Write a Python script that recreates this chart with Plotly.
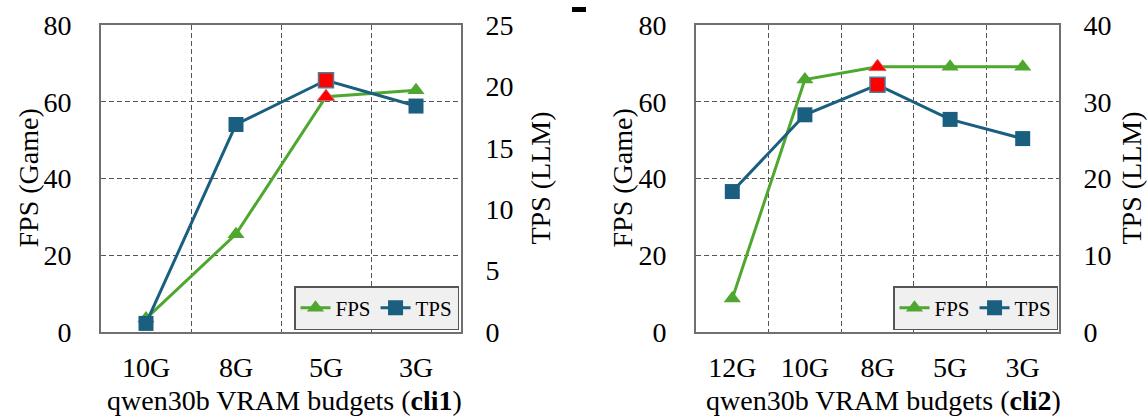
import plotly.graph_objects as go

# ---------------- data ----------------
left_cats = ["10G", "8G", "5G", "3G"]
left_fps = [3.5, 25.5, 61.3, 63.0]
left_tps = [0.7, 16.9, 20.5, 18.4]
left_highlight = 2

right_cats = ["12G", "10G", "8G", "5G", "3G"]
right_fps = [8.7, 65.8, 69.1, 69.1, 69.1]
right_tps = [18.3, 28.3, 32.2, 27.7, 25.2]
right_highlight = 2

fps_ticks = [0, 20, 40, 60, 80]
left_tps_ticks = [0, 5, 10, 15, 20, 25]
right_tps_ticks = [0, 10, 20, 30, 40]

# ---------------- style ----------------
W, H = 1148, 418
MT, MB = 25, 86
PH = H - MT - MB
GREEN = "#4ea72e"
BLUE = "#1a5e80"
RED = "#ff0000"
FONT = "Liberation Serif"
FS = 28

def px_x(p):
    return p / W

def px_y(p):
    return (H - MB - p) / PH

fig = go.Figure()

def add_panel(cats, fps, tps, hi, xa, ya_l, ya_r, legend):
    fig.add_trace(go.Scatter(
        x=cats, y=fps, name="FPS", mode="lines+markers",
        line=dict(color=GREEN, width=3),
        marker=dict(symbol="triangle-up", size=15, color=GREEN),
        xaxis=xa, yaxis=ya_l, legend=legend, cliponaxis=False))
    fig.add_trace(go.Scatter(
        x=[cats[hi]], y=[fps[hi]], mode="markers", showlegend=False,
        marker=dict(symbol="triangle-up", size=15, color=RED,
                    line=dict(color="#e06060", width=1)),
        xaxis=xa, yaxis=ya_l, cliponaxis=False))
    fig.add_trace(go.Scatter(
        x=cats, y=tps, name="TPS", mode="lines+markers",
        line=dict(color=BLUE, width=3),
        marker=dict(symbol="square", size=15, color=BLUE),
        xaxis=xa, yaxis=ya_r, legend=legend, cliponaxis=False))
    fig.add_trace(go.Scatter(
        x=[cats[hi]], y=[tps[hi]], mode="markers", showlegend=False,
        marker=dict(symbol="square", size=15, color=RED,
                    line=dict(color="#4a7f9a", width=1.5)),
        xaxis=xa, yaxis=ya_r, cliponaxis=False))

add_panel(left_cats, left_fps, left_tps, left_highlight, "x", "y", "y2", "legend")
add_panel(right_cats, right_fps, right_tps, right_highlight, "x2", "y3", "y4", "legend2")

tickfont = dict(family=FONT, size=FS, color="black")
grid = dict(showgrid=True, gridcolor="#555555", gridwidth=1, griddash="5px,3px")
frame = dict(showline=True, linecolor="#707070", linewidth=2, mirror=True)

def xaxis(dom, cats):
    return dict(domain=dom, type="category", range=[-0.5, len(cats) - 0.5],
                tickson="boundaries", ticks="", tickfont=tickfont,
                ticklabelstandoff=9, zeroline=False, **grid, **frame)

def yleft(anchor, ticks):
    return dict(anchor=anchor, range=[ticks[0], ticks[-1]], tickvals=ticks,
                ticks="", tickfont=tickfont, ticklabelstandoff=22,
                zeroline=False, **grid, **frame)

def yright(anchor, overlay, ticks):
    return dict(anchor=anchor, overlaying=overlay, side="right",
                range=[ticks[0], ticks[-1]], tickvals=ticks, ticks="",
                tickfont=tickfont, ticklabelstandoff=17, showgrid=False,
                zeroline=False, showline=True, linecolor="#707070", linewidth=2)

leg_common = dict(orientation="h", bgcolor="#f0f0f0", bordercolor="#555555",
                  borderwidth=1.5, font=dict(family=FONT, size=21, color="black"),
                  xanchor="right", yanchor="bottom", itemwidth=30,
                  tracegroupgap=0)

fig.update_layout(
    width=W, height=H,
    margin=dict(l=0, r=0, t=MT, b=MB),
    paper_bgcolor="white", plot_bgcolor="white",
    font=dict(family=FONT, size=FS, color="black"),
    xaxis=xaxis([px_x(101), px_x(461)], left_cats),
    yaxis=yleft("x", fps_ticks),
    yaxis2=yright("x", "y", left_tps_ticks),
    xaxis2=xaxis([px_x(696), px_x(1059)], right_cats),
    yaxis3=yleft("x2", fps_ticks),
    yaxis4=yright("x2", "y3", right_tps_ticks),
    legend=dict(x=px_x(459), y=px_y(330), **leg_common),
    legend2=dict(x=px_x(1058), y=px_y(330), **leg_common),
    showlegend=True,
)

ann_font = dict(family=FONT, size=FS, color="black")
annots = [
    dict(text="FPS (Game)", x=px_x(28), y=0.5, textangle=-90),
    dict(text="TPS (LLM)", x=px_x(540), y=0.5, textangle=-90),
    dict(text="FPS (Game)", x=px_x(622), y=0.5, textangle=-90),
    dict(text="TPS (LLM)", x=px_x(1131), y=0.5, textangle=-90),
    dict(text="qwen30b VRAM budgets (<b>cli1</b>)", x=px_x(284), y=px_y(400)),
    dict(text="qwen30b VRAM budgets (<b>cli2</b>)", x=px_x(883), y=px_y(400)),
]
for a in annots:
    fig.add_annotation(xref="paper", yref="paper", showarrow=False,
                       xanchor="center", yanchor="middle", font=ann_font, **a)

fig.add_shape(type="rect", xref="paper", yref="paper",
              x0=px_x(572), x1=px_x(586), y0=px_y(12), y1=px_y(7),
              fillcolor="black", line=dict(width=0))

fig.write_html(
    "out.html",
    config={"displayModeBar": False},
    post_script="document.body.style.margin='0';document.body.style.overflow='hidden';",
)
